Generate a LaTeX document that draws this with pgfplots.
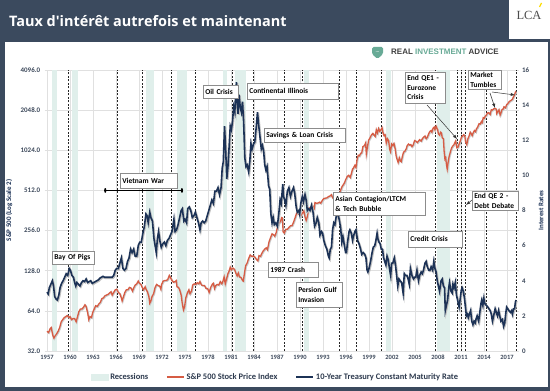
\documentclass[border=0pt]{standalone}
\usepackage{fontspec}
\setmainfont{Carlito}
\newfontfamily\titlefont{Open Sans}
\newfontfamily\riafont{Liberation Sans}
\newfontfamily\lcafont{Liberation Serif}
\usepackage{pgfplots}
\usepackage{pgfplotstable}
\pgfplotsset{compat=1.18}
\usetikzlibrary{shadows}

\definecolor{frame}{RGB}{59,74,94}
\definecolor{spred}{RGB}{214,92,68}
\definecolor{tnavy}{RGB}{28,50,86}
\definecolor{recess}{RGB}{224,239,235}
\definecolor{ticktxt}{RGB}{62,74,92}
\definecolor{riagreen}{RGB}{104,170,150}
\definecolor{legtxt}{RGB}{45,58,78}

\pgfplotstableread{
year sp
1957.0 45
1957.2 44
1957.4 47
1957.55 48
1957.75 42
1957.9 40
1958.05 41.5
1958.25 43
1958.45 45
1958.65 48
1958.85 53
1959.05 55
1959.25 57
1959.45 58
1959.65 59
1959.85 57
1960.0 58
1960.2 55
1960.4 56
1960.6 56
1960.8 53
1960.95 57
1961.15 63
1961.35 66
1961.55 66
1961.75 68
1961.95 71
1962.1 69
1962.3 62
1962.45 55
1962.6 58
1962.8 57
1962.95 62
1963.15 66
1963.35 70
1963.55 69
1963.75 72
1963.95 74
1964.15 79
1964.35 80
1964.55 83
1964.75 84
1964.95 85
1965.15 87
1965.35 89
1965.5 84
1965.7 88
1965.9 92
1966.1 93
1966.3 88
1966.5 86
1966.7 80
1966.8 76
1966.95 81
1967.15 88
1967.35 92
1967.55 92
1967.75 96
1967.95 95
1968.15 90
1968.3 95
1968.5 100
1968.7 102
1968.9 107
1969.05 103
1969.25 101
1969.45 95
1969.6 92
1969.8 97
1969.95 92
1970.1 89
1970.3 81
1970.4 73
1970.55 76
1970.7 82
1970.9 86
1971.1 96
1971.3 101
1971.5 99
1971.7 98
1971.85 93
1971.95 101
1972.15 107
1972.35 108
1972.55 108
1972.75 110
1972.95 118
1973.1 114
1973.3 108
1973.5 105
1973.7 106
1973.85 108
1973.95 97
1974.15 96
1974.3 92
1974.5 84
1974.65 72
1974.8 65
1974.95 69
1975.1 80
1975.3 87
1975.5 92
1975.65 86
1975.85 90
1976.0 100
1976.2 102
1976.4 101
1976.6 104
1976.8 102
1976.95 106
1977.15 100
1977.35 99
1977.55 99
1977.75 94
1977.95 94
1978.15 88
1978.35 96
1978.55 101
1978.7 103
1978.85 94
1979.0 99
1979.2 101
1979.4 100
1979.6 106
1979.8 102
1979.95 107
1980.1 115
1980.25 102
1980.4 110
1980.6 122
1980.75 127
1980.9 136
1981.05 130
1981.25 134
1981.45 131
1981.65 122
1981.8 117
1981.95 123
1982.1 115
1982.3 114
1982.5 108
1982.6 107
1982.75 122
1982.9 139
1983.1 146
1983.3 158
1983.5 168
1983.7 164
1983.9 165
1984.1 162
1984.3 156
1984.5 152
1984.65 166
1984.85 164
1985.0 172
1985.2 180
1985.4 186
1985.6 190
1985.75 184
1985.95 210
1986.15 226
1986.35 242
1986.55 238
1986.7 232
1986.9 248
1987.05 270
1987.25 292
1987.45 300
1987.6 320
1987.7 318
1987.8 250
1987.95 245
1988.15 262
1988.35 262
1988.55 270
1988.75 278
1988.95 278
1989.15 295
1989.35 318
1989.55 345
1989.7 350
1989.85 340
1989.95 352
1990.1 330
1990.3 345
1990.5 360
1990.65 325
1990.8 305
1990.95 325
1991.1 365
1991.3 380
1991.5 378
1991.7 388
1991.85 375
1991.95 415
1992.15 410
1992.35 412
1992.55 418
1992.7 410
1992.9 430
1993.1 445
1993.3 448
1993.5 450
1993.7 460
1993.9 465
1994.1 475
1994.25 450
1994.45 450
1994.6 460
1994.75 465
1994.9 455
1995.1 480
1995.3 515
1995.5 550
1995.65 565
1995.8 585
1995.95 615
1996.15 650
1996.35 665
1996.55 640
1996.7 685
1996.85 740
1996.95 750
1997.15 790
1997.3 760
1997.45 880
1997.6 940
1997.75 930
1997.9 970
1998.05 980
1998.2 1090
1998.4 1110
1998.55 1160
1998.65 960
1998.8 1090
1998.95 1220
1999.1 1260
1999.3 1330
1999.5 1370
1999.65 1330
1999.8 1300
1999.95 1460
2000.1 1380
2000.25 1490
2000.4 1420
2000.55 1460
2000.7 1510
2000.8 1400
2000.95 1320
2001.1 1340
2001.25 1160
2001.4 1250
2001.55 1210
2001.7 1040
2001.8 1000
2001.95 1140
2002.1 1110
2002.25 1150
2002.4 1060
2002.55 920
2002.65 880
2002.8 830
2002.95 900
2003.1 850
2003.2 840
2003.35 920
2003.5 990
2003.7 1010
2003.85 1050
2003.98 1110
2004.15 1140
2004.3 1120
2004.45 1130
2004.6 1090
2004.75 1120
2004.95 1210
2005.1 1200
2005.3 1170
2005.45 1200
2005.6 1230
2005.8 1200
2005.95 1250
2006.1 1280
2006.3 1310
2006.45 1250
2006.6 1280
2006.8 1370
2006.95 1420
2007.1 1440
2007.2 1400
2007.35 1500
2007.5 1530
2007.6 1460
2007.75 1550
2007.85 1500
2007.95 1460
2008.05 1360
2008.2 1330
2008.35 1400
2008.45 1380
2008.55 1270
2008.7 1250
2008.8 1000
2008.9 880
2009.0 900
2009.1 800
2009.2 740
2009.3 820
2009.45 920
2009.6 990
2009.75 1060
2009.9 1100
2010.05 1120
2010.2 1170
2010.3 1200
2010.45 1070
2010.6 1080
2010.75 1140
2010.9 1200
2011.05 1280
2011.2 1310
2011.35 1340
2011.5 1300
2011.6 1180
2011.75 1130
2011.9 1250
2012.05 1310
2012.2 1400
2012.35 1360
2012.45 1320
2012.6 1390
2012.75 1440
2012.9 1410
2013.0 1480
2013.15 1520
2013.35 1620
2013.5 1610
2013.65 1680
2013.75 1650
2013.9 1800
2014.05 1780
2014.15 1840
2014.3 1880
2014.45 1950
2014.6 1960
2014.8 1900
2014.95 2060
2015.1 2050
2015.3 2100
2015.45 2110
2015.6 2080
2015.65 1930
2015.8 1990
2015.95 2060
2016.1 1880
2016.2 1940
2016.35 2070
2016.5 2090
2016.6 2170
2016.8 2130
2016.95 2250
2017.1 2290
2017.25 2360
2017.4 2400
2017.55 2430
2017.7 2470
2017.85 2580
2017.98 2670
2018.1 2800
2018.17 2760
}\spdata

\pgfplotstableread{
year rate
1957.0 3.35
1957.15 3.25
1957.3 3.6
1957.5 3.8
1957.7 4.0
1957.85 3.7
1958.0 3.1
1958.2 2.95
1958.35 2.9
1958.55 3.2
1958.7 3.6
1958.9 3.85
1959.1 4.0
1959.3 4.2
1959.5 4.4
1959.7 4.3
1959.9 4.7
1960.05 4.6
1960.25 4.3
1960.45 4.2
1960.6 3.9
1960.75 3.7
1960.9 3.9
1961.1 3.8
1961.3 3.7
1961.5 3.9
1961.7 4.0
1961.9 3.95
1962.1 4.1
1962.3 3.9
1962.5 3.95
1962.7 4.0
1962.9 3.85
1963.1 3.9
1963.3 3.95
1963.5 4.0
1963.7 4.05
1963.9 4.15
1964.1 4.2
1964.3 4.25
1964.5 4.2
1964.7 4.2
1964.9 4.2
1965.1 4.2
1965.3 4.2
1965.5 4.2
1965.7 4.3
1965.9 4.6
1966.1 4.7
1966.3 4.7
1966.5 5.0
1966.7 5.3
1966.9 4.7
1967.1 4.6
1967.3 4.7
1967.5 5.1
1967.7 5.3
1967.9 5.8
1968.1 5.6
1968.3 5.8
1968.5 5.4
1968.7 5.4
1968.9 6.0
1969.1 6.2
1969.3 6.2
1969.5 6.7
1969.7 7.1
1969.9 7.8
1970.05 7.7
1970.2 7.3
1970.4 7.9
1970.55 7.6
1970.75 7.4
1970.95 6.4
1971.1 6.0
1971.25 5.6
1971.4 6.4
1971.55 6.8
1971.75 6.2
1971.9 5.9
1972.1 6.1
1972.3 6.2
1972.5 6.0
1972.7 6.3
1972.9 6.4
1973.1 6.6
1973.3 6.8
1973.55 7.5
1973.7 6.8
1973.9 6.9
1974.1 7.2
1974.3 7.6
1974.5 8.0
1974.65 8.1
1974.85 7.4
1975.0 7.5
1975.2 7.3
1975.35 8.1
1975.55 8.2
1975.75 8.0
1975.95 7.6
1976.15 7.7
1976.35 7.9
1976.55 7.6
1976.75 7.3
1976.95 6.9
1977.1 7.3
1977.3 7.4
1977.5 7.3
1977.7 7.4
1977.9 7.7
1978.1 8.0
1978.3 8.3
1978.5 8.6
1978.7 8.4
1978.9 9.1
1979.1 9.1
1979.3 9.3
1979.5 8.9
1979.7 9.3
1979.85 10.4
1980.0 10.8
1980.15 12.8
1980.3 11.5
1980.45 9.8
1980.6 10.5
1980.75 11.6
1980.9 12.8
1981.05 12.6
1981.2 13.1
1981.35 13.9
1981.5 13.6
1981.62 14.9
1981.72 15.3
1981.82 14.0
1981.92 13.5
1982.05 14.6
1982.2 13.9
1982.35 13.6
1982.5 14.2
1982.65 13.0
1982.8 11.0
1982.95 10.5
1983.1 10.6
1983.3 10.2
1983.45 10.8
1983.6 11.8
1983.75 11.5
1983.95 11.8
1984.1 11.9
1984.3 12.8
1984.45 13.6
1984.6 12.9
1984.75 12.3
1984.95 11.5
1985.1 11.7
1985.25 11.4
1985.4 10.6
1985.55 10.3
1985.7 10.5
1985.9 9.4
1986.05 9.2
1986.2 7.8
1986.35 7.3
1986.5 7.6
1986.65 7.2
1986.85 7.3
1987.05 7.1
1987.25 7.9
1987.4 8.6
1987.55 8.4
1987.75 9.5
1987.85 8.8
1988.0 8.6
1988.15 8.3
1988.35 9.1
1988.55 9.3
1988.75 8.8
1988.95 9.1
1989.15 9.3
1989.3 9.0
1989.5 8.2
1989.65 7.9
1989.85 8.0
1989.95 7.8
1990.1 8.4
1990.3 8.8
1990.45 8.5
1990.65 8.9
1990.8 8.6
1990.95 8.0
1991.1 8.1
1991.3 8.0
1991.5 8.3
1991.7 7.9
1991.9 7.1
1992.1 7.3
1992.25 7.6
1992.45 7.3
1992.6 6.6
1992.8 6.8
1992.95 6.7
1993.1 6.3
1993.3 6.0
1993.5 5.8
1993.7 5.4
1993.8 5.3
1993.95 5.8
1994.1 5.9
1994.25 6.9
1994.4 7.3
1994.55 7.2
1994.7 7.6
1994.85 8.0
1994.95 7.8
1995.1 7.5
1995.3 7.0
1995.45 6.2
1995.6 6.5
1995.75 6.1
1995.95 5.6
1996.05 5.6
1996.2 6.2
1996.4 6.8
1996.5 6.9
1996.7 6.7
1996.85 6.3
1996.95 6.5
1997.15 6.8
1997.3 6.9
1997.5 6.3
1997.7 6.1
1997.9 5.8
1998.05 5.5
1998.25 5.6
1998.45 5.5
1998.6 5.3
1998.75 4.6
1998.85 4.5
1999.0 4.7
1999.2 5.1
1999.4 5.6
1999.55 5.9
1999.75 6.0
1999.9 6.3
2000.05 6.7
2000.15 6.4
2000.3 6.2
2000.45 6.1
2000.6 5.8
2000.75 5.8
2000.9 5.3
2001.05 5.1
2001.2 4.9
2001.35 5.4
2001.5 5.2
2001.7 4.6
2001.82 4.3
2001.95 5.0
2002.1 5.0
2002.3 5.3
2002.45 4.9
2002.6 4.3
2002.75 3.7
2002.9 4.1
2003.05 4.0
2003.25 3.9
2003.45 3.3
2003.6 4.4
2003.75 4.3
2003.95 4.3
2004.1 4.1
2004.25 3.8
2004.4 4.7
2004.6 4.3
2004.8 4.1
2004.95 4.2
2005.1 4.2
2005.25 4.6
2005.45 4.0
2005.6 4.3
2005.8 4.5
2005.95 4.4
2006.1 4.6
2006.3 5.0
2006.45 5.1
2006.6 4.8
2006.8 4.6
2006.95 4.6
2007.1 4.8
2007.3 4.6
2007.45 5.1
2007.6 4.7
2007.75 4.5
2007.9 4.0
2008.05 3.7
2008.2 3.4
2008.4 4.0
2008.55 4.1
2008.7 3.7
2008.85 3.6
2008.95 2.3
2009.1 2.6
2009.25 2.9
2009.4 3.6
2009.5 3.9
2009.7 3.4
2009.85 3.3
2009.95 3.8
2010.1 3.6
2010.25 3.9
2010.4 3.2
2010.6 2.8
2010.75 2.5
2010.9 3.0
2011.05 3.5
2011.15 3.6
2011.3 3.4
2011.45 3.0
2011.6 2.4
2011.7 2.0
2011.85 2.1
2011.95 1.9
2012.1 2.1
2012.25 2.3
2012.4 1.7
2012.55 1.5
2012.7 1.7
2012.85 1.6
2012.95 1.8
2013.1 2.0
2013.3 1.7
2013.45 2.2
2013.6 2.7
2013.7 2.9
2013.85 2.6
2013.98 3.0
2014.1 2.7
2014.3 2.6
2014.5 2.5
2014.65 2.4
2014.8 2.3
2014.95 2.1
2015.1 1.7
2015.25 2.0
2015.45 2.4
2015.6 2.2
2015.75 2.0
2015.9 2.3
2016.05 2.0
2016.2 1.7
2016.4 1.8
2016.55 1.4
2016.7 1.6
2016.85 2.2
2016.95 2.5
2017.1 2.4
2017.25 2.3
2017.45 2.2
2017.6 2.3
2017.7 2.1
2017.85 2.4
2017.98 2.4
2018.1 2.8
2018.17 2.9
}\ratedata

\begin{document}
\begin{tikzpicture}
% frame and panels
\fill[frame] (0bp,0bp) rectangle (550bp,391bp);
\fill[white] (5bp,4bp) rectangle (548bp,349bp);
\fill[white] (509bp,352bp) rectangle (550bp,391bp);
\node[anchor=center, text=black!70, font=\lcafont\fontsize{12.5}{13}\selectfont] at (529bp,376bp) {LCA};
\draw[yellow!80!orange, line width=1.2bp] (539.5bp,384bp) -- (541.5bp,388bp);
\node[anchor=base west, text=white, font=\titlefont\bfseries\fontsize{14.5}{16}\selectfont, inner sep=0pt] at (9bp,364bp) {Taux d'intérêt autrefois et maintenant};
% RIA logo
\fill[riagreen, rounded corners=1.5bp] (372bp,344bp) -- (383bp,344bp) -- (383bp,337bp) -- (377.5bp,332bp) -- (372bp,337bp) -- cycle;
\node[text=white, font=\fontsize{5}{5}\selectfont\bfseries, inner sep=0pt] at (377.5bp,339bp) {...};
\node[anchor=west, inner sep=0pt, font=\riafont\bfseries\fontsize{8}{9}\selectfont] at (391bp,339bp)
  {\textcolor{black!75}{REAL} \textcolor{riagreen}{INVESTMENT} \textcolor{black!75}{ADVICE}};

\begin{axis}[
  at={(44.7bp,40bp)}, anchor=south west,
  width=473.8bp, height=281bp, scale only axis,
  xmin=1956.7, xmax=2018.5,
  ymode=log, log basis y=2, ymin=32, ymax=4096,
  axis line style={draw=none}, tick style={draw=none},
  xtick={1957,1960,...,2017},
  ytick={32,64,128,256,512,1024,2048,4096},
  yticklabels={32.0,64.0,128.0,256.0,512.0,1024.0,2048.0,4096.0},
  grid=major, major grid style={black!12, line width=0.5pt},
  /pgf/number format/assume math mode=true,
  /pgf/number format/1000 sep={},
  xticklabel style={font=\fontsize{6.5}{7}\selectfont\bfseries, text=ticktxt, yshift=-1bp},
  yticklabel style={font=\fontsize{7}{8}\selectfont\bfseries, text=ticktxt, xshift=-1bp},
  ylabel={S\&P 500 (Log Scale 2)},
  ylabel style={at={(axis description cs:-0.075,0.5)}, anchor=center, font=\fontsize{7}{8}\selectfont\bfseries, text=tnavy},
]
% recessions
\fill[recess] (axis cs:1957.6,32) rectangle (axis cs:1958.3,4096);
\fill[recess] (axis cs:1960.3,32) rectangle (axis cs:1961.1,4096);
\fill[recess] (axis cs:1969.9,32) rectangle (axis cs:1970.9,4096);
\fill[recess] (axis cs:1973.9,32) rectangle (axis cs:1975.2,4096);
\fill[recess] (axis cs:1980.0,32) rectangle (axis cs:1980.5,4096);
\fill[recess] (axis cs:1981.5,32) rectangle (axis cs:1982.9,4096);
\fill[recess] (axis cs:1990.5,32) rectangle (axis cs:1991.2,4096);
\fill[recess] (axis cs:2001.2,32) rectangle (axis cs:2001.9,4096);
\fill[recess] (axis cs:2007.9,32) rectangle (axis cs:2009.5,4096);
% event lines
\pgfplotsinvokeforeach{1959.74,1966.13,1969.39,1973.17,1976.3,1981.13,1983.87,1987.91,1990.26,1995.09,1997.3,2000.56,2007.6,2010.48,2011.0,2011.52,2014.26,2018.17}{
  \draw[black!85, dash pattern=on 2bp off 1.5bp, line width=0.8pt] (axis cs:#1,32) -- (axis cs:#1,4096);
}
% Vietnam war range
\draw[black, line width=0.6pt] (axis cs:1964.6,512) -- (axis cs:1974.6,512);
\fill[black] (axis cs:1964.6,512) ellipse (1.1bp and 2.4bp);
\fill[black] (axis cs:1974.6,512) ellipse (1.1bp and 2.4bp);
\addplot[forget plot, black!20, line width=1.5pt, xshift=0.7bp, yshift=-0.7bp] table[x=year,y=sp] {\spdata};
\addplot[spred, line width=1.3pt] table[x=year,y=sp] {\spdata};
\end{axis}

\begin{axis}[
  at={(44.7bp,40bp)}, anchor=south west,
  width=473.8bp, height=281bp, scale only axis,
  xmin=1956.7, xmax=2018.5,
  ymin=0, ymax=16,
  hide x axis,
  axis y line*=right,
  axis line style={draw=none}, tick style={draw=none},
  ytick={0,2,...,16},
  /pgf/number format/assume math mode=true,
  yticklabel style={font=\fontsize{7}{8}\selectfont\bfseries, text=ticktxt},
  ylabel={Interest Rates},
  ylabel style={at={(axis description cs:1.0475,0.5)}, anchor=center, rotate=0, font=\fontsize{7}{8}\selectfont\bfseries, text=tnavy},
  legend columns=3,
  legend style={at={(axis description cs:0.487,-0.0925)}, anchor=center, draw=none, fill=none,
    font=\fontsize{8.5}{10}\selectfont\bfseries, text=legtxt,
    /tikz/every even column/.append style={column sep=16bp}},
]
\addlegendimage{area legend, fill=recess, draw=recess}
\addlegendentry{Recessions}
\addlegendimage{spred, line width=1.3pt}
\addlegendentry{S\&P 500 Stock Price Index}
\addplot[forget plot, black!25, line width=1.9pt, xshift=0.8bp, yshift=-0.9bp] table[x=year,y=rate] {\ratedata};
\addplot[tnavy, line width=1.6pt] table[x=year,y=rate] {\ratedata};
\addlegendentry{10-Year Treasury Constant Maturity Rate}
\end{axis}

% annotation boxes
\tikzset{box/.style={draw=black!45, fill=white, line width=0.6pt, inner sep=2bp, anchor=north west, align=left,
  font=\fontsize{7.5}{9.5}\selectfont\bfseries, text=black,
  drop shadow={opacity=0.25, shadow xshift=0.8bp, shadow yshift=-0.8bp}}}
\node[box, text width=53bp, minimum height=15bp] at (120bp,218bp) {Vietnam War};
\node[box, text width=38bp, minimum height=13bp] at (52bp,140bp) {Bay Of Pigs};
\node[box, text width=31bp, minimum height=13bp] at (203bp,306bp) {Oil Crisis};
\node[box, text width=87bp, minimum height=16bp] at (247bp,308bp) {Continental Illinois};
\node[box, text width=77bp, minimum height=14bp] at (264bp,263bp) {Savings \& Loan Crisis};
\node[box, text width=88bp, minimum height=23bp] at (333bp,199bp) {Asian Contagion/LTCM\\ \& Tech Bubble};
\node[box, text width=46bp, minimum height=15bp] at (268bp,129bp) {1987 Crash};
\node[box, text width=42bp, minimum height=25bp] at (296bp,109bp) {Persion Gulf\\Invasion};
\node[box, text width=50bp, minimum height=16bp] at (408bp,160bp) {Credit Crisis};
\draw[black!80, line width=0.5pt, -latex] (427bp,286bp) -- (457bp,252bp);
\node[box, text width=36bp, minimum height=31bp] at (405bp,319bp) {End QE1 -\\Eurozone\\Crisis};
\draw[black!80, line width=0.5pt, -latex] (490bp,298bp) -- (495bp,283bp);
\draw[black!80, line width=0.5pt, -latex] (492bp,299bp) -- (515bp,296bp);
\node[box, text width=29bp, minimum height=19bp] at (468bp,321bp) {Market\\Tumbles};
\draw[black!80, line width=0.5pt, -latex] (472bp,191bp) -- (466bp,186bp);
\node[box, text width=42bp, minimum height=19bp] at (472bp,200bp) {End QE 2 -\\Debt Debate};
\end{tikzpicture}
\end{document}
